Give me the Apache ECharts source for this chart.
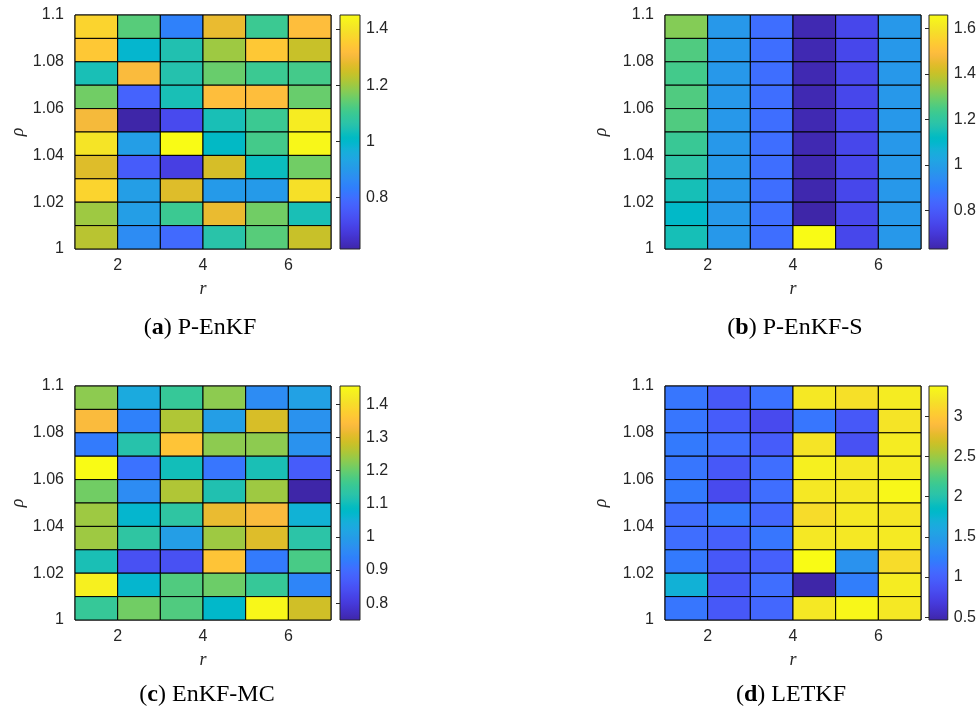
<!DOCTYPE html>
<html>
<head>
<meta charset="utf-8">
<script src="https://cdn.jsdelivr.net/npm/echarts@6/dist/echarts.min.js"></script>
<style>
html,body{margin:0;padding:0;background:#fff;}
#chart{width:979px;height:713px;}
</style>
</head>
<body>
<div id="chart"></div>
<script>
// ---------- data ----------
const rValues = [1, 2, 3, 4, 5, 6];
// rows listed from top (rho = 1.09) to bottom (rho = 1.00); each cell spans [rho, rho+0.01]
const rhoValues = [1.09, 1.08, 1.07, 1.06, 1.05, 1.04, 1.03, 1.02, 1.01, 1.00];

const valuesPEnKF = [
  [1.367, 1.133, 0.842, 1.283, 1.100, 1.317],
  [1.342, 0.992, 1.050, 1.200, 1.342, 1.242],
  [1.040, 1.308, 1.055, 1.150, 1.100, 1.112],
  [1.158, 0.775, 1.040, 1.317, 1.317, 1.150],
  [1.300, 0.617, 0.717, 1.040, 1.100, 1.417],
  [1.400, 0.917, 1.450, 1.010, 1.112, 1.442],
  [1.267, 0.759, 0.692, 1.258, 1.025, 1.158],
  [1.367, 0.917, 1.267, 0.905, 0.905, 1.392],
  [1.200, 0.917, 1.100, 1.283, 1.158, 1.040],
  [1.225, 0.867, 0.792, 1.062, 1.133, 1.242]
];
const valuesPEnKFS = [
  [1.320, 0.978, 0.858, 0.645, 0.745, 0.978],
  [1.258, 0.978, 0.858, 0.645, 0.745, 0.978],
  [1.240, 0.978, 0.858, 0.645, 0.745, 0.978],
  [1.258, 0.978, 0.858, 0.645, 0.745, 0.978],
  [1.258, 0.978, 0.858, 0.645, 0.745, 0.978],
  [1.222, 0.978, 0.858, 0.645, 0.745, 0.978],
  [1.190, 0.978, 0.858, 0.645, 0.745, 0.978],
  [1.150, 0.978, 0.858, 0.640, 0.745, 0.978],
  [1.110, 0.978, 0.858, 0.632, 0.745, 0.978],
  [1.150, 0.978, 0.858, 1.658, 0.745, 0.978]
];
const valuesEnKFMC = [
  [1.229, 1.031, 1.151, 1.229, 0.961, 1.010],
  [1.335, 0.940, 1.257, 1.003, 1.293, 0.975],
  [0.926, 1.123, 1.356, 1.229, 1.229, 0.975],
  [1.455, 0.911, 1.102, 0.918, 1.109, 0.869],
  [1.208, 0.961, 1.257, 1.116, 1.243, 0.749],
  [1.243, 1.067, 1.137, 1.314, 1.335, 1.053],
  [1.243, 1.137, 1.003, 1.243, 1.300, 1.130],
  [1.109, 0.848, 0.848, 1.356, 0.926, 1.173],
  [1.434, 1.067, 1.180, 1.204, 1.151, 0.947],
  [1.151, 1.208, 1.180, 1.074, 1.448, 1.286]
];
const valuesLETKF = [
  [1.164, 0.931, 1.135, 3.229, 3.170, 3.258],
  [1.164, 0.960, 0.815, 1.164, 0.931, 3.200],
  [1.193, 1.106, 0.960, 3.200, 0.873, 3.258],
  [1.164, 0.931, 1.106, 3.287, 3.229, 3.258],
  [1.193, 0.815, 1.106, 3.229, 3.229, 3.345],
  [1.106, 1.193, 1.048, 3.141, 3.229, 3.214],
  [1.106, 0.990, 1.164, 3.229, 3.229, 3.243],
  [1.193, 0.931, 0.990, 3.374, 1.397, 3.141],
  [1.716, 0.931, 1.106, 0.466, 1.222, 3.258],
  [1.164, 0.931, 1.048, 3.229, 3.345, 3.229]
];

const colorbarTicksA = [0.8, 1, 1.2, 1.4];
const colorbarTicksB = [0.8, 1, 1.2, 1.4, 1.6];
const colorbarTicksC = [0.8, 0.9, 1, 1.1, 1.2, 1.3, 1.4];
const colorbarTicksD = [0.5, 1, 1.5, 2, 2.5, 3];
const xTickValues = [2, 4, 6];

const panelNames = ['P-EnKF', 'P-EnKF-S', 'EnKF-MC', 'LETKF'];
const panelLetters = ['a', 'b', 'c', 'd'];

// ---------- colormap (parula) ----------
const parulaRGB = [
[0.2422,0.1504,0.6603],[0.2504,0.1650,0.7076],[0.2578,0.1818,0.7511],[0.2647,0.1978,0.7952],
[0.2706,0.2147,0.8364],[0.2751,0.2342,0.8710],[0.2783,0.2559,0.8991],[0.2803,0.2782,0.9221],
[0.2813,0.3006,0.9414],[0.2810,0.3228,0.9579],[0.2795,0.3447,0.9717],[0.2760,0.3667,0.9829],
[0.2699,0.3892,0.9906],[0.2602,0.4123,0.9952],[0.2440,0.4358,0.9988],[0.2206,0.4603,0.9973],
[0.1963,0.4847,0.9892],[0.1834,0.5074,0.9798],[0.1786,0.5289,0.9682],[0.1764,0.5499,0.9520],
[0.1687,0.5703,0.9359],[0.1540,0.5902,0.9218],[0.1460,0.6091,0.9079],[0.1380,0.6276,0.8973],
[0.1248,0.6459,0.8883],[0.1113,0.6635,0.8763],[0.0952,0.6798,0.8598],[0.0689,0.6948,0.8394],
[0.0297,0.7082,0.8163],[0.0036,0.7203,0.7917],[0.0067,0.7312,0.7660],[0.0433,0.7411,0.7394],
[0.0964,0.7500,0.7120],[0.1408,0.7584,0.6842],[0.1717,0.7670,0.6554],[0.1938,0.7758,0.6251],
[0.2161,0.7843,0.5923],[0.2470,0.7918,0.5567],[0.2906,0.7973,0.5188],[0.3406,0.8008,0.4789],
[0.3909,0.8029,0.4354],[0.4456,0.8024,0.3909],[0.5044,0.7993,0.3480],[0.5616,0.7942,0.3045],
[0.6174,0.7876,0.2612],[0.6720,0.7793,0.2227],[0.7242,0.7698,0.1910],[0.7738,0.7598,0.1646],
[0.8203,0.7498,0.1535],[0.8634,0.7406,0.1596],[0.9035,0.7330,0.1774],[0.9393,0.7288,0.2100],
[0.9728,0.7298,0.2394],[0.9956,0.7434,0.2371],[0.9970,0.7659,0.2199],[0.9952,0.7893,0.2028],
[0.9892,0.8136,0.1885],[0.9786,0.8386,0.1766],[0.9676,0.8639,0.1643],[0.9610,0.8890,0.1537],
[0.9597,0.9135,0.1423],[0.9628,0.9373,0.1265],[0.9691,0.9606,0.1064],[0.9769,0.9839,0.0805]
];
const parula = parulaRGB.map(c => 'rgb(' + c.map(v => Math.round(v * 255)).join(',') + ')');

// ---------- build ----------
const panels = [
  {vals: valuesPEnKF, ticks: colorbarTicksA},
  {vals: valuesPEnKFS, ticks: colorbarTicksB},
  {vals: valuesEnKFMC, ticks: colorbarTicksC},
  {vals: valuesLETKF, ticks: colorbarTicksD}
];
const layout = [
  {left: 75, top: 15, h: 234, cbLeft: 340, cbW: 20, nameGap: 48, capX: 200, capY: 328},
  {left: 665, top: 15, h: 234, cbLeft: 929, cbW: 21, nameGap: 55, capX: 795, capY: 328},
  {left: 75, top: 386, h: 234, cbLeft: 340, cbW: 20, nameGap: 48, capX: 207, capY: 695},
  {left: 665, top: 386, h: 234, cbLeft: 929, cbW: 21, nameGap: 55, capX: 791, capY: 695}
];
const plotW = 256;
const txtColor = '#262626';
const sansFont = 'Liberation Sans, Arial, sans-serif';
const serifFont = 'Liberation Serif, Times New Roman, serif';
const rStep = rValues[1] - rValues[0];
const rhoStep = Math.abs(rhoValues[0] - rhoValues[1]);

const grids = [], xAxes = [], yAxes = [], series = [], visualMaps = [], graphics = [];

panels.forEach((p, i) => {
  const L = layout[i];
  const data = [];
  p.vals.forEach((row, ri) => row.forEach((v, ci) => data.push([rValues[ci], rhoValues[ri], v])));
  const all = data.map(d => d[2]);
  const vmin = Math.min(...all), vmax = Math.max(...all);

  // heatmap grid
  grids.push({left: L.left, top: L.top, width: plotW, height: L.h, show: true,
    borderColor: txtColor, borderWidth: 1, backgroundColor: 'transparent'});
  const gi = grids.length - 1;
  xAxes.push({type: 'value', gridIndex: gi, min: rValues[0], max: rValues[rValues.length - 1] + rStep,
    splitLine: {show: false}, axisLine: {show: false}, axisTick: {show: false},
    axisLabel: {customValues: xTickValues, color: txtColor, fontFamily: sansFont, fontSize: 16, margin: 9},
    name: 'r', nameLocation: 'middle', nameGap: 31,
    nameTextStyle: {fontFamily: serifFont, fontStyle: 'italic', fontSize: 18, color: txtColor}});
  yAxes.push({type: 'value', gridIndex: gi, min: 1, max: 1.1, interval: 0.02,
    splitLine: {show: false}, axisLine: {show: false}, axisTick: {show: false},
    axisLabel: {color: txtColor, fontFamily: sansFont, fontSize: 16, margin: 11},
    name: 'ρ', nameLocation: 'middle', nameGap: L.nameGap, nameRotate: 90,
    nameTextStyle: {fontFamily: serifFont, fontStyle: 'italic', fontSize: 18, color: txtColor}});
  series.push({type: 'custom', xAxisIndex: gi, yAxisIndex: gi, data: data, encode: {x: 0, y: 1},
    renderItem: function (params, api) {
      const x0 = api.value(0), y0 = api.value(1);
      const a = api.coord([x0, y0 + rhoStep]);
      const b = api.coord([x0 + rStep, y0]);
      return {type: 'rect', shape: {x: a[0], y: a[1], width: b[0] - a[0], height: b[1] - a[1]},
        style: {fill: api.visual('color'), stroke: '#000', lineWidth: 1}};
    }});
  visualMaps.push({type: 'continuous', show: false, min: vmin, max: vmax, dimension: 2,
    seriesIndex: series.length - 1, inRange: {color: parula}});

  // colorbar grid
  grids.push({left: L.cbLeft, top: L.top, width: L.cbW, height: L.h, show: false});
  const ci = grids.length - 1;
  xAxes.push({type: 'value', gridIndex: ci, min: 0, max: 1, show: false});
  yAxes.push({type: 'value', gridIndex: ci, min: vmin, max: vmax, position: 'right',
    splitLine: {show: false}, axisLine: {show: false},
    axisTick: {show: true, inside: true, length: 4, customValues: p.ticks, lineStyle: {color: txtColor, width: 1}},
    axisLabel: {customValues: p.ticks, color: txtColor, fontFamily: sansFont, fontSize: 16, margin: 6}});
  const stops = parula.map((c, k) => ({offset: 1 - k / (parula.length - 1), color: c})).reverse();
  series.push({type: 'custom', xAxisIndex: ci, yAxisIndex: ci, data: [[0, vmin, vmax]], silent: true,
    renderItem: function (params, api) {
      const a = api.coord([0, api.value(2)]);
      const b = api.coord([1, api.value(1)]);
      return {type: 'rect', shape: {x: a[0], y: a[1], width: b[0] - a[0], height: b[1] - a[1]},
        style: {fill: {type: 'linear', x: 0, y: 0, x2: 0, y2: 1, colorStops: stops},
          stroke: txtColor, lineWidth: 1}};
    }});

  // caption
  graphics.push({type: 'text', x: L.capX, y: L.capY, silent: true,
    style: {text: '({b|' + panelLetters[i] + '}) ' + panelNames[i], align: 'center', verticalAlign: 'middle',
      fill: '#000', fontFamily: serifFont, fontSize: 24,
      rich: {b: {fontWeight: 'bold', fontFamily: serifFont, fontSize: 24, fill: '#000'}}}});
});

const chart = echarts.init(document.getElementById('chart'), null, {renderer: 'canvas'});
chart.setOption({
  animation: false,
  backgroundColor: '#fff',
  grid: grids, xAxis: xAxes, yAxis: yAxes, series: series, visualMap: visualMaps,
  graphic: graphics
});
</script>
</body>
</html>
